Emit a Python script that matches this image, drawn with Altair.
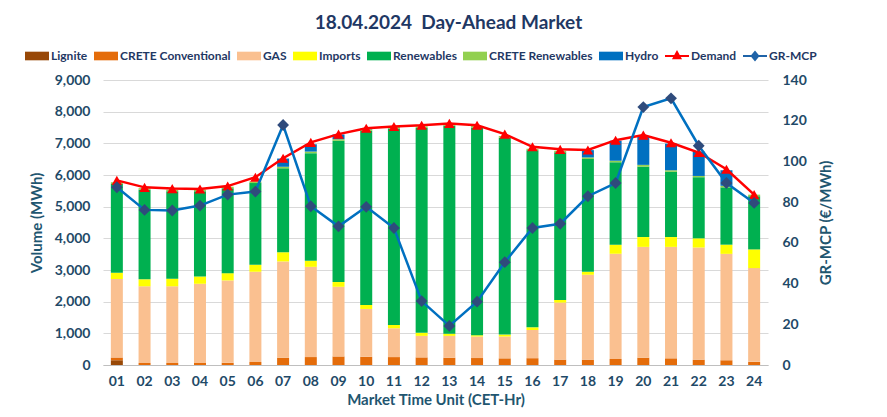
import altair as alt
import pandas as pd

hours = [f"{i:02d}" for i in range(1, 25)]

lignite = [150] + [0] * 23
crete_conv = [85, 65, 65, 65, 70, 95, 230, 250, 270, 260, 250, 240, 230, 220, 210, 215, 170, 170, 190, 230, 210, 170, 150, 100]
gas = [2480, 2420, 2420, 2500, 2600, 2850, 3040, 2850, 2200, 1510, 910, 680, 690, 680, 690, 890, 1800, 2680, 3320, 3500, 3520, 3540, 3360, 2960]
imports = [200, 220, 240, 230, 230, 220, 290, 190, 150, 125, 105, 95, 65, 40, 60, 85, 85, 95, 290, 310, 310, 290, 290, 590]
renewables = [2800, 2830, 2760, 2690, 2680, 2580, 2650, 3400, 4460, 5500, 6200, 6470, 6570, 6560, 6220, 5590, 4660, 3560, 2600, 2220, 2060, 1930, 1810, 1680]
crete_ren = [60, 50, 50, 50, 50, 50, 50, 50, 50, 50, 50, 50, 50, 50, 50, 50, 50, 50, 50, 60, 50, 40, 50, 50]
hydro = [0, 0, 0, 0, 0, 0, 260, 230, 150, 20, 0, 0, 0, 0, 0, 0, 0, 230, 630, 910, 840, 770, 490, 0]
demand = [5830, 5610, 5570, 5560, 5650, 5930, 6530, 7030, 7290, 7476, 7530, 7570, 7630, 7570, 7290, 6890, 6810, 6790, 7100, 7260, 7020, 6710, 6180, 5380]
mcp = [87.3, 76.2, 75.9, 78.3, 83.7, 85.2, 117.9, 78.0, 68.1, 77.7, 67.3, 31.4, 19.2, 31.1, 50.5, 67.3, 69.4, 82.9, 89.4, 126.7, 131.0, 107.7, 89.4, 79.6]

bar_series = ["Lignite", "CRETE Conventional", "GAS", "Imports", "Renewables", "CRETE Renewables", "Hydro"]
bar_colors = ["#984807", "#E46C0A", "#FAC090", "#FFFF00", "#00B050", "#92D050", "#0070C0"]
all_series = bar_series + ["Demand", "GR-MCP"]
all_colors = bar_colors + ["#FF0000", "#1F63A8"]
rect_path = "M-1,-0.36H1V0.36H-1Z"
demand_path = "M-1,-0.08H1V0.08H-1Z M0,-0.5L0.42,0.28H-0.42Z"
mcp_path = "M-1,-0.08H1V0.08H-1Z M0,-0.46L0.38,0L0,0.46L-0.38,0Z"
all_shapes = [rect_path] * 7 + [demand_path, mcp_path]

rows = []
for k, (name, vals) in enumerate(zip(bar_series, [lignite, crete_conv, gas, imports, renewables, crete_ren, hydro])):
    for h, v in zip(hours, vals):
        rows.append({"hour": h, "series": name, "value": v, "order": k})
bars_df = pd.DataFrame(rows)
line_df = pd.DataFrame({"hour": hours, "Demand": demand, "MCP": mcp})

FONT = "Lato"
LABEL_C = "#1F4A68"
TITLE_C = "#1F5670"

x_axis = alt.Axis(title="Market Time Unit (CET-Hr)", labelAngle=0, ticks=False,
                  domain=True, domainColor="#BFBFBF", labelPadding=9, titlePadding=4)
x_scale = alt.Scale(paddingInner=0.56, paddingOuter=0.28)


def xenc():
    return alt.X("hour:O", sort=hours, scale=x_scale, axis=x_axis)


y_title = "Volume (MWh)"
left_scale = alt.Scale(domain=[0, 9000], nice=False)
left_axis = alt.Axis(values=list(range(0, 9001, 1000)), labelExpr="format(datum.value, ',')",
                     domain=False, ticks=False,
                     grid=True, gridColor="#D9D9D9", labelPadding=13, titlePadding=10)

bars = alt.Chart(bars_df).mark_bar(size=12).encode(
    x=xenc(),
    y=alt.Y("value:Q", stack="zero", scale=left_scale, axis=left_axis, title=y_title),
    fill=alt.Fill("series:N", scale=alt.Scale(domain=bar_series, range=bar_colors), legend=None),
    order=alt.Order("order:Q"),
)

demand_line = alt.Chart(line_df).mark_line(color="#FF0000", strokeWidth=2.5).encode(
    x=xenc(),
    y=alt.Y("Demand:Q", scale=left_scale, axis=left_axis, title=y_title),
)
demand_pts = alt.Chart(line_df).mark_point(shape="triangle-up", filled=True, color="#FF0000",
                                           size=110, opacity=1).encode(
    x=xenc(),
    y=alt.Y("Demand:Q", scale=left_scale, axis=left_axis, title=y_title),
)

legend_kw = dict(
    orient="none", legendX=-78, legendY=-36, direction="horizontal", columns=9, title=None,
    symbolSize=576, symbolStrokeWidth=0, symbolOpacity=1, labelFont=FONT, labelFontSize=12,
    labelFontWeight="bold", labelColor="#1F3864", labelOffset=2, columnPadding=6,
)
legend_layer = alt.Chart(bars_df).transform_filter("false").mark_point(filled=True, opacity=1).encode(
    color=alt.Color("series:N", scale=alt.Scale(domain=all_series, range=all_colors),
                    legend=alt.Legend(**legend_kw)),
    shape=alt.Shape("series:N", scale=alt.Scale(domain=all_series, range=all_shapes),
                    legend=alt.Legend(**legend_kw)),
)

right_axis = alt.Axis(orient="right", values=list(range(0, 141, 20)), domain=False, ticks=False,
                      grid=False, labelPadding=14, titlePadding=27, titleAngle=270)
right_scale = alt.Scale(domain=[0, 140], nice=False)
mcp_line = alt.Chart(line_df).mark_line(color="#0070C0", strokeWidth=2.5).encode(
    x=xenc(),
    y=alt.Y("MCP:Q", scale=right_scale, axis=right_axis, title="GR-MCP (€/MWh)"),
)
mcp_pts = alt.Chart(line_df).mark_point(shape="diamond", filled=True, color="#2F4B7C",
                                        size=140, opacity=1).encode(
    x=xenc(),
    y=alt.Y("MCP:Q", scale=right_scale, axis=right_axis, title="GR-MCP (€/MWh)"),
)

left = alt.layer(bars, demand_line, demand_pts, legend_layer)
right = alt.layer(mcp_line, mcp_pts)

chart = alt.layer(left, right).resolve_scale(y="independent").properties(
    width=665, height=285,
    title=alt.TitleParams("18.04.2024\u00a0\u00a0Day-Ahead Market", font=FONT, fontSize=19,
                          fontWeight="bold", color="#1F3864", anchor="middle", frame="group",
                          offset=11, dx=13),
    padding={"left": 95, "top": 72, "right": 111, "bottom": 44},
    autosize=alt.AutoSizeParams(type="none"),
).configure_view(stroke=None).configure_axis(
    labelFont=FONT, labelFontSize=14, labelFontWeight="bold", labelColor=LABEL_C,
    titleFont=FONT, titleFontSize=15, titleFontWeight="bold", titleColor=TITLE_C,
)

chart.save("out.html", embed_options={"renderer": "svg", "actions": False})
